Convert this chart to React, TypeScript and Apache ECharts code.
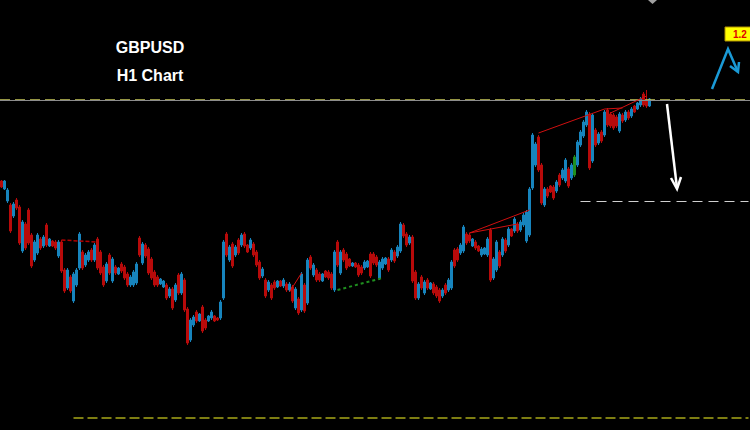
import React, { useEffect, useRef } from "react";
import * as echarts from "echarts";

const SYMBOL = "GBPUSD";
const TIMEFRAME = "H1 Chart";
const PRICE_TAG = "1.2";
const SLOTS = 250;
const Y_MIN = 1.217;
const Y_MAX = 1.26;

// candles: [open, close, low, high] in pips above 1.0000
const candles: number[][] = [
  [2419,2413,2412,2420],[2411,2419,2410,2420],[2399,2410,2397,2412],[2395,2369,2367,2397],[2384,2396,2382,2398],
  [2400,2392,2390,2402],[2393,2357,2355,2395],[2349,2378,2347,2380],[2376,2352,2350,2378],[2390,2357,2355,2392],
  [2365,2334,2332,2367],[2340,2358,2338,2360],[2347,2365,2345,2367],[2361,2352,2350,2363],[2354,2363,2352,2365],
  [2375,2355,2353,2377],[2354,2361,2353,2362],[2359,2354,2353,2360],[2358,2352,2350,2360],[2344,2358,2342,2360],
  [2358,2329,2327,2360],[2330,2309,2307,2332],[2312,2330,2310,2332],[2323,2309,2307,2325],[2299,2326,2297,2328],
  [2315,2330,2313,2332],[2332,2366,2330,2368],[2348,2332,2330,2350],[2335,2345,2333,2347],[2340,2348,2338,2350],
  [2350,2340,2338,2352],[2340,2355,2338,2357],[2361,2332,2330,2363],[2348,2327,2325,2350],[2333,2315,2313,2335],
  [2319,2336,2317,2338],[2345,2327,2325,2347],[2319,2341,2317,2343],[2333,2327,2325,2335],[2326,2332,2325,2333],
  [2336,2329,2327,2338],[2333,2322,2320,2335],[2326,2315,2313,2328],[2315,2323,2313,2325],[2315,2328,2313,2330],
  [2317,2336,2315,2338],[2362,2345,2343,2364],[2337,2356,2335,2358],[2355,2344,2342,2357],[2351,2327,2325,2353],
  [2341,2322,2320,2343],[2328,2315,2313,2330],[2323,2315,2313,2325],[2316,2321,2315,2322],[2313,2319,2312,2320],
  [2315,2302,2300,2317],[2304,2311,2302,2313],[2311,2292,2290,2313],[2300,2315,2298,2317],[2325,2307,2305,2327],
  [2307,2326,2305,2328],[2320,2290,2288,2322],[2291,2257,2255,2293],[2260,2280,2258,2282],[2275,2283,2273,2285],
  [2288,2279,2277,2290],[2279,2286,2278,2287],[2293,2269,2267,2295],[2280,2272,2270,2282],[2279,2284,2278,2285],
  [2282,2288,2280,2290],[2284,2279,2278,2285],[2282,2280,2279,2283],[2282,2298,2280,2300],[2302,2358,2300,2360],
  [2366,2345,2343,2368],[2340,2353,2338,2355],[2356,2334,2332,2358],[2345,2353,2343,2355],[2360,2347,2345,2362],
  [2355,2365,2353,2367],[2366,2354,2352,2368],[2355,2348,2347,2356],[2352,2360,2350,2362],[2356,2345,2343,2358],
  [2348,2335,2333,2350],[2338,2322,2320,2340],[2324,2331,2322,2333],[2320,2304,2302,2322],[2310,2318,2308,2320],
  [2315,2302,2300,2317],[2318,2312,2310,2320],[2313,2319,2312,2320],[2319,2314,2313,2320],[2314,2320,2312,2322],
  [2316,2310,2308,2318],[2310,2316,2308,2318],[2313,2299,2297,2315],[2292,2311,2290,2313],[2301,2287,2285,2303],
  [2290,2326,2288,2328],[2315,2289,2287,2317],[2297,2340,2295,2342],[2343,2332,2330,2345],[2325,2335,2323,2337],
  [2330,2320,2318,2332],[2326,2320,2318,2328],[2319,2326,2318,2327],[2329,2323,2322,2330],[2328,2322,2320,2330],
  [2326,2312,2310,2328],[2310,2348,2308,2350],[2358,2335,2333,2360],[2327,2348,2325,2350],[2350,2340,2338,2352],
  [2346,2332,2330,2348],[2341,2334,2333,2342],[2334,2337,2333,2338],[2337,2333,2332,2338],[2335,2325,2323,2337],
  [2333,2327,2325,2335],[2332,2338,2330,2340],[2333,2339,2332,2340],[2346,2324,2322,2348],[2346,2337,2335,2348],
  [2343,2335,2333,2345],[2322,2338,2320,2340],[2332,2341,2330,2343],[2336,2342,2335,2343],[2341,2330,2328,2343],
  [2340,2350,2338,2352],[2348,2339,2337,2350],[2344,2353,2342,2355],[2349,2376,2347,2378],[2375,2364,2362,2377],
  [2366,2355,2353,2368],[2357,2363,2355,2365],[2363,2319,2317,2365],[2328,2302,2300,2330],[2302,2316,2300,2318],
  [2323,2312,2310,2325],[2307,2318,2305,2320],[2320,2312,2310,2322],[2311,2317,2310,2318],[2316,2307,2305,2318],
  [2313,2304,2302,2315],[2310,2299,2297,2312],[2304,2310,2302,2312],[2315,2307,2305,2317],[2310,2320,2308,2322],
  [2312,2338,2310,2340],[2350,2334,2332,2352],[2351,2340,2338,2353],[2347,2355,2345,2357],[2349,2373,2347,2375],
  [2366,2357,2355,2368],[2365,2359,2357,2367],[2354,2361,2353,2362],[2358,2352,2350,2360],[2354,2349,2348,2355],
  [2345,2351,2343,2353],[2346,2352,2345,2353],[2345,2361,2343,2363],[2370,2320,2318,2372],[2322,2341,2320,2343],
  [2330,2358,2328,2360],[2348,2334,2332,2350],[2345,2361,2343,2363],[2360,2349,2347,2362],[2355,2371,2353,2373],
  [2371,2364,2363,2372],[2369,2381,2367,2383],[2376,2369,2367,2378],[2370,2378,2368,2380],[2375,2385,2373,2387],
  [2359,2388,2357,2390],[2365,2411,2363,2413],[2412,2465,2410,2467],[2435,2456,2433,2458],[2463,2430,2428,2465],
  [2435,2397,2395,2437],[2395,2411,2393,2413],[2411,2404,2402,2413],[2414,2408,2407,2415],[2413,2402,2400,2415],
  [2409,2418,2407,2420],[2425,2415,2413,2427],[2422,2430,2420,2432],[2419,2440,2417,2442],[2431,2414,2412,2433],
  [2422,2435,2420,2437],[2425,2443,2423,2445],[2435,2458,2433,2460],[2455,2468,2453,2470],[2464,2478,2462,2480],
  [2475,2488,2473,2490],[2486,2432,2430,2488],[2439,2485,2437,2487],[2470,2455,2453,2472],[2457,2466,2455,2468],
  [2468,2459,2457,2470],[2465,2488,2463,2490],[2490,2475,2473,2492],[2486,2474,2472,2488],[2485,2472,2470,2487],
  [2483,2474,2472,2485],[2469,2486,2467,2488],[2485,2479,2477,2487],[2480,2488,2478,2490],[2488,2482,2480,2490],
  [2484,2491,2482,2493],[2494,2488,2487,2495],[2491,2497,2490,2498],[2495,2501,2493,2503],[2506,2495,2493,2508],
  [2500,2494,2492,2510],[2494,2501,2493,2502],
];
const GREEN_CANDLE = 191;

// horizontal levels (price)
const resistanceDashed = 1.2503;
const resistanceSolid = 1.2499;
const targetLevel = 1.2399;
const targetFrom = 193;
const supportLevel = 1.2182;
const supportFrom = 24;

// trend lines: [fromIndex, fromPrice, toIndex, toPrice]
const redDashedLines = [[20, 1.236, 32, 1.2358]];
const redLines = [
  [96, 1.2308, 100, 1.2327],
  [156, 1.2367, 176, 1.239],
  [156, 1.2367, 172, 1.2376],
  [179, 1.2467, 201, 1.2491],
  [201, 1.2491, 207, 1.2492],
  [203, 1.2487, 215, 1.2504],
];
const greenDashedLines = [[112, 1.231, 127, 1.2322]];

const UP = "#1784bd";
const DOWN = "#b80a0a";

export default function App() {
  const ref = useRef<HTMLDivElement>(null);
  useEffect(() => {
    document.body.style.margin = "0";
    document.body.style.background = "#000";
    if (!ref.current) return;
    const chart = echarts.init(ref.current, undefined, { renderer: "svg" });
    const categories = Array.from({ length: SLOTS }, (_, i) => `H${i}`);
    const data = candles.map((c, i) => {
      const value = c.map((v) => 1 + v / 10000);
      if (i === GREEN_CANDLE) {
        return { value, itemStyle: { color: "#1f8f1f", borderColor: "#1f8f1f", color0: "#1f8f1f", borderColor0: "#1f8f1f" } };
      }
      return value;
    });
    const seg = (l: number[], style: any) => [
      { coord: [l[0], l[1]], lineStyle: style },
      { coord: [l[2], l[3]] },
    ];
    const markData: any[] = [
      { yAxis: resistanceDashed, lineStyle: { color: "#c6c65a", type: [10, 5], width: 1.5 } },
      { yAxis: resistanceSolid, lineStyle: { color: "#8c8c8c", type: "solid", width: 1 } },
      seg([targetFrom, targetLevel, SLOTS - 1, targetLevel], { color: "#d0d0d0", type: [10, 6], width: 1 }),
      seg([supportFrom, supportLevel, SLOTS - 1, supportLevel], { color: "#a8a818", type: [10, 4], width: 1.5 }),
      ...redDashedLines.map((l) => seg(l, { color: "#b00000", type: [4, 2], width: 1.5 })),
      ...redLines.map((l) => seg(l, { color: "#d01010", type: "solid", width: 1 })),
      ...greenDashedLines.map((l) => seg(l, { color: "#1f8f1f", type: [3, 3], width: 2 })),
    ];
    const font = "bold 16px 'Liberation Sans', Arial, sans-serif";
    chart.setOption({
      animation: false,
      backgroundColor: "#000",
      grid: { left: 0, right: 0, top: 0, bottom: 0 },
      xAxis: {
        type: "category",
        data: categories,
        boundaryGap: true,
        show: false,
      },
      yAxis: {
        type: "value",
        min: Y_MIN,
        max: Y_MAX,
        show: false,
        splitLine: { show: false },
      },
      series: [
        {
          type: "candlestick",
          data,
          barWidth: 2,
          itemStyle: { color: UP, color0: DOWN, borderColor: UP, borderColor0: DOWN, borderWidth: 1 },
          markLine: {
            silent: true,
            symbol: ["none", "none"],
            label: { show: false },
            data: markData,
          },
        },
      ],
      graphic: [
        {
          type: "text",
          x: 150,
          y: 47,
          style: { text: SYMBOL, fill: "#ffffff", font, align: "center", verticalAlign: "middle" },
        },
        {
          type: "text",
          x: 150,
          y: 75,
          style: { text: TIMEFRAME, fill: "#ffffff", font, align: "center", verticalAlign: "middle" },
        },
        {
          type: "line",
          shape: { x1: 667, y1: 104, x2: 677, y2: 188 },
          style: { stroke: "#ffffff", lineWidth: 2.5 },
        },
        {
          type: "polyline",
          shape: { points: [[681, 177], [677, 189], [671, 178]] },
          style: { stroke: "#ffffff", lineWidth: 2.5, fill: "none" },
        },
        {
          type: "polyline",
          shape: { points: [[712, 89], [728, 49], [738, 72]] },
          style: { stroke: "#1a9ad6", lineWidth: 2.5, fill: "none" },
        },
        {
          type: "polyline",
          shape: { points: [[739, 62], [738, 72], [730, 66]] },
          style: { stroke: "#1a9ad6", lineWidth: 2.5, fill: "none" },
        },
        {
          type: "rect",
          shape: { x: 725, y: 27, width: 60, height: 14 },
          style: { fill: "#ffff00", stroke: "#b09000", lineWidth: 1 },
        },
        {
          type: "text",
          x: 733,
          y: 34,
          style: { text: PRICE_TAG, fill: "#e00000", font: "bold 10px 'Liberation Sans', Arial, sans-serif", verticalAlign: "middle" },
        },
        {
          type: "polygon",
          shape: { points: [[648, 0], [657, 0], [652.5, 4]] },
          style: { fill: "#a0a0a0" },
        },
      ],
    });
    return () => chart.dispose();
  }, []);
  return <div ref={ref} style={{ width: 750, height: 430, background: "#000" }} />;
}
